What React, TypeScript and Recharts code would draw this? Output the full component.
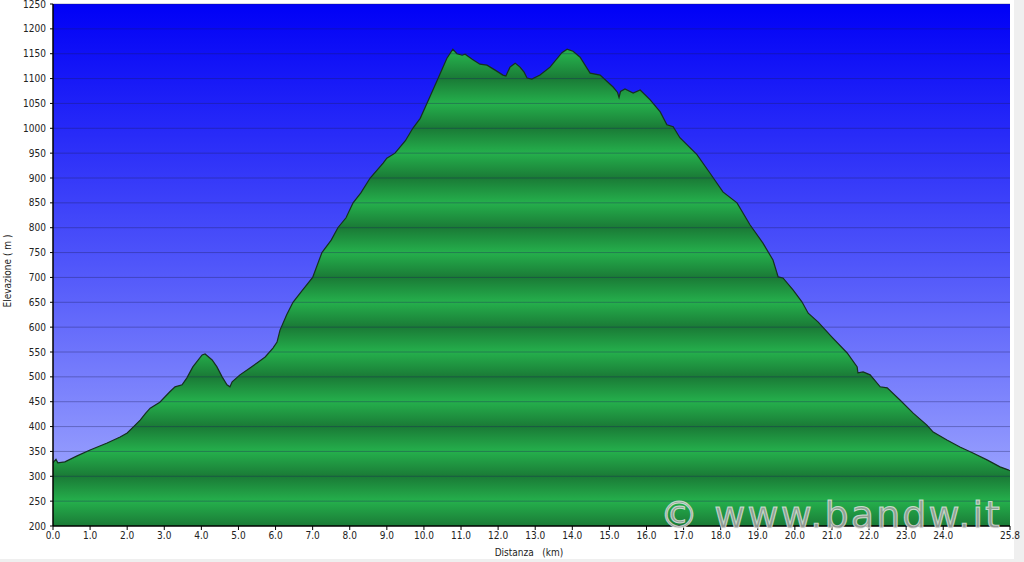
import React from 'react';
import { AreaChart, Area, XAxis, YAxis, CartesianGrid, ReferenceLine } from 'recharts';

const distKm: number[] = [
  0.0, 0.03, 0.08, 0.13, 0.32, 0.65, 1.0, 1.46, 1.81, 2.0, 2.16, 2.35, 2.5, 2.62, 2.88, 3.15, 3.29, 3.48, 3.61, 3.77,
  4.02, 4.1, 4.29, 4.42, 4.56, 4.69, 4.77, 4.83, 5.04, 5.31, 5.5, 5.72, 5.93, 6.04, 6.12, 6.3, 6.47, 6.7, 7.0, 7.25,
  7.5, 7.68, 7.9, 8.09, 8.3, 8.55, 8.9, 9.0, 9.22, 9.5, 9.7, 9.9, 10.08, 10.35, 10.62, 10.78, 10.89, 11.03, 11.11, 11.3,
  11.51, 11.7, 11.92, 12.13, 12.21, 12.32, 12.46, 12.59, 12.7, 12.78, 12.91, 13.13, 13.4, 13.72, 13.86, 14.02, 14.21, 14.48, 14.75, 15.1,
  15.22, 15.26, 15.3, 15.42, 15.64, 15.83, 16.1, 16.37, 16.55, 16.72, 16.9, 17.36, 17.71, 18.06, 18.44, 18.79, 19.14, 19.41, 19.55, 19.68,
  19.95, 20.19, 20.36, 20.63, 21.0, 21.41, 21.68, 21.7, 21.84, 22.03, 22.3, 22.49, 22.84, 23.19, 23.56, 23.73, 24.1, 24.45, 24.8, 25.18,
  25.53, 25.75, 25.8,
];

const elevM: number[] = [
  327, 330, 334, 327, 329, 341, 353, 367, 379, 387, 399, 413, 427, 437, 449, 470, 480, 484, 498, 520,
  544, 546, 534, 520, 500, 484, 480, 490, 504, 518, 528, 540, 558, 570, 594, 625, 650, 672, 700, 750,
  775, 800, 820, 850, 870, 900, 930, 940, 950, 975, 1000, 1020, 1050, 1095, 1141, 1159, 1150, 1147, 1149, 1139,
  1129, 1127, 1117, 1107, 1105, 1123, 1131, 1123, 1113, 1101, 1099, 1107, 1123, 1152, 1159, 1155, 1143, 1111, 1107, 1083,
  1072, 1062, 1074, 1079, 1071, 1077, 1057, 1033, 1007, 1003, 981, 947, 910, 872, 850, 806, 769, 735, 701, 699,
  675, 651, 628, 610, 580, 548, 520, 508, 510, 504, 480, 478, 453, 427, 403, 389, 373, 359, 347, 333,
  319, 313, 311,
];

const xTicks: number[] = [0, 1, 2, 3, 4, 5, 6, 7, 8, 9, 10, 11, 12, 13, 14, 15, 16, 17, 18, 19, 20, 21, 22, 23, 24, 25.8];
const yTicks: number[] = [200, 250, 300, 350, 400, 450, 500, 550, 600, 650, 700, 750, 800, 850, 900, 950, 1000, 1050, 1100, 1150, 1200, 1250];
const gridLevels: number[] = [250, 300, 350, 400, 450, 500, 550, 600, 650, 700, 750, 800, 850, 900, 950, 1000, 1050, 1100, 1150, 1200, 1250];

const xTitle = 'Distanza   (km)';
const yTitle = 'Elevazione ( m )';
const watermark = '\u00A9 www.bandw.it';

const data = distKm.map((d, i) => ({ km: d, elev: elevM[i] }));

const W = 1024;
const H = 562;
const PLOT_TOP = 4;
const PLOT_BOTTOM = 526;
const Y_MIN = 200;
const Y_MAX = 1250;
const yPix = (v: number) => PLOT_BOTTOM - ((v - Y_MIN) * (PLOT_BOTTOM - PLOT_TOP)) / (Y_MAX - Y_MIN);

const FONT = "Tahoma, 'DejaVu Sans Condensed', 'Liberation Sans', sans-serif";
const tickStyle = { fontSize: 10, fill: '#222', fontFamily: FONT };

export default function App() {
  return (
    <div style={{ position: 'absolute', left: 0, top: 0, width: W, height: H, background: '#fff' }}>
      <div style={{ position: 'absolute', left: 1014, top: 0, width: 10, height: H, background: '#efefef' }} />
      <div style={{ position: 'absolute', left: 0, top: 559, width: W, height: 3, background: '#efefef' }} />
      <div style={{ position: 'absolute', left: 0, top: 0 }}>
        <AreaChart width={W} height={H} data={data} margin={{ top: PLOT_TOP, right: 14, left: 0, bottom: 0 }}>
          <defs>
            <linearGradient id="bgBlue" x1="0" y1="0" x2="0" y2="1">
              <stop offset="0%" stopColor="#0000f6" />
              <stop offset="50%" stopColor="#5056fa" />
              <stop offset="100%" stopColor="#aab2ff" />
            </linearGradient>
            <linearGradient
              id="greenBands"
              gradientUnits="userSpaceOnUse"
              x1="0"
              x2="0"
              y1={yPix(300)}
              y2={yPix(200)}
              spreadMethod="repeat"
            >
              <stop offset="0%" stopColor="#1a7a36" />
              <stop offset="50%" stopColor="#25b04c" />
              <stop offset="100%" stopColor="#1a7a36" />
            </linearGradient>
          </defs>
          <CartesianGrid horizontal={false} vertical={false} fill="url(#bgBlue)" fillOpacity={1} stroke="none" />
          <XAxis
            dataKey="km"
            type="number"
            domain={[0, 25.8]}
            ticks={xTicks}
            interval={0}
            tickFormatter={(v: number) => v.toFixed(1)}
            height={36}
            tickSize={4}
            tickMargin={2}
            axisLine={{ stroke: '#000', strokeWidth: 1.5 }}
            tickLine={{ stroke: '#000' }}
            tick={tickStyle}
            allowDataOverflow
          />
          <YAxis
            type="number"
            domain={[Y_MIN, Y_MAX]}
            ticks={yTicks}
            interval={0}
            width={53}
            tickSize={3}
            tickMargin={4}
            axisLine={{ stroke: '#000', strokeWidth: 1.5 }}
            tickLine={{ stroke: '#000' }}
            tick={tickStyle}
            allowDataOverflow
          />
          <Area
            type="linear"
            dataKey="elev"
            baseValue={Y_MIN}
            stroke="#16301f"
            strokeWidth={1.2}
            fill="url(#greenBands)"
            fillOpacity={1}
            dot={false}
            activeDot={false}
            isAnimationActive={false}
          />
          {gridLevels.map((g) => (
            <ReferenceLine key={g} y={g} stroke="#1e1e5a" strokeOpacity={0.35} strokeWidth={1} ifOverflow="visible" />
          ))}
        </AreaChart>
      </div>
      <svg width={W} height={H} style={{ position: 'absolute', left: 0, top: 0, pointerEvents: 'none' }}>
        <text
          x={529}
          y={556}
          textAnchor="middle"
          fontSize={10}
          fill="#222"
          fontFamily={FONT}
          style={{ whiteSpace: 'pre' }}
        >
          {xTitle}
        </text>
        <text
          x={0}
          y={0}
          transform="translate(11,271) rotate(-90)"
          textAnchor="middle"
          fontSize={10}
          fill="#222"
          fontFamily={FONT}
          style={{ whiteSpace: 'pre' }}
        >
          {yTitle}
        </text>
        <text
          x={660}
          y={528}
          fontSize={38}
          fontFamily="'DejaVu Sans', Verdana, sans-serif"
          textLength={340}
          lengthAdjust="spacing"
          fill="#a4a4a4"
          fillOpacity={0.85}
          stroke="#f4f4f4"
          strokeOpacity={0.7}
          strokeWidth={1}
        >
          {watermark}
        </text>
      </svg>
    </div>
  );
}
